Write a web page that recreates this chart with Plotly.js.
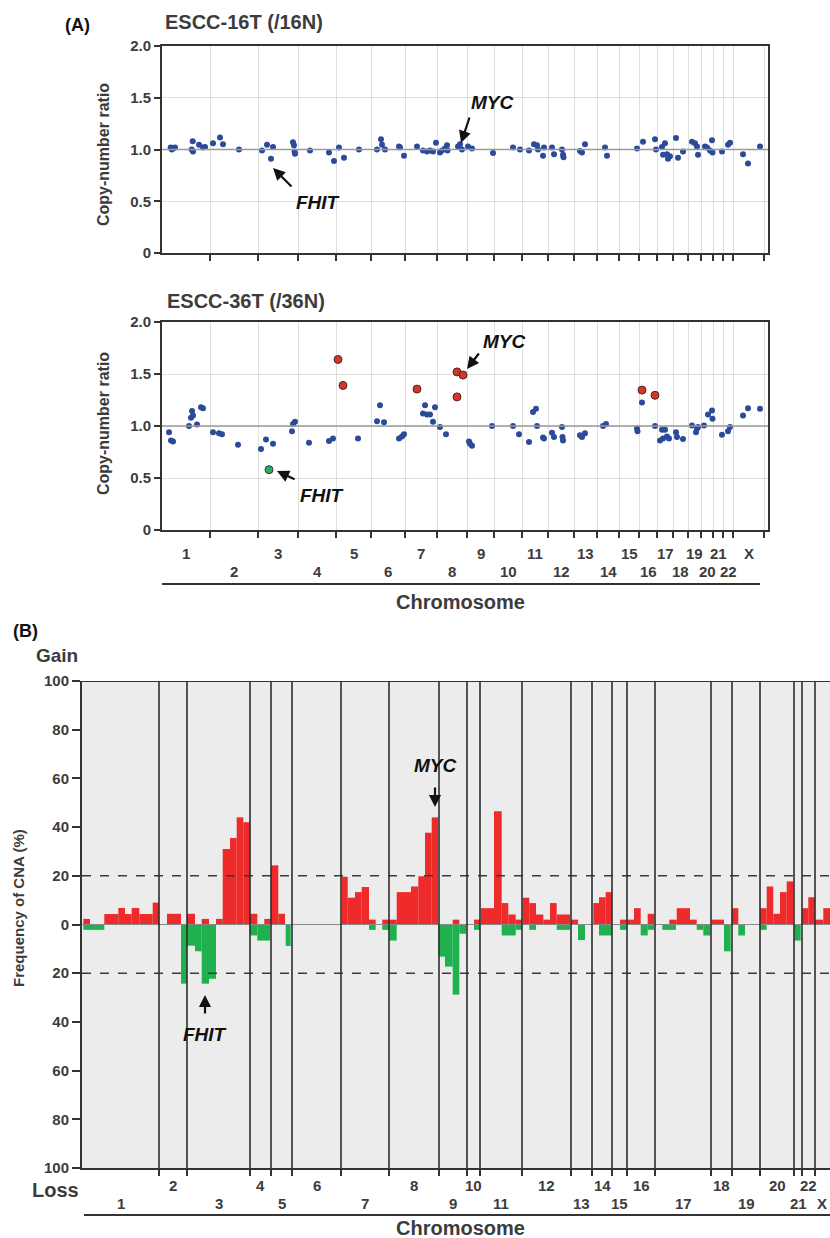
<!DOCTYPE html>
<html>
<head>
<meta charset="utf-8">
<script src="https://cdn.plot.ly/plotly-3.0.1.min.js"></script>
<style>
html,body{margin:0;padding:0;overflow:hidden;background:#fff;}
#chart{width:870px;height:1238px;}
</style>
</head>
<body>
<div id="chart"></div>
<script>
// ---------------- DATA ----------------
const chromNames = ['1','2','3','4','5','6','7','8','9','10','11','12','13','14','15','16','17','18','19','20','21','22','X'];
// chromosome boundaries (genome position units) for panel A and panel B
const chromEdgesA = [0,48,96,136,174,209,243,275,305,332,360,386,412,435,457,477,495,511,526,539,551,561,571,602];
const chromEdgesB = [0,77,105,168,189,210,259,307,357,385,398,440,489,510,530,545,573,629,650,678,712,720,733,770];

// ESCC-16T (/16N) copy-number ratios
const pos16 = [8.7,11,13,9.7,30.7,29.7,31,37,41,43,51,58,61,77,100,105,109,111,131,132,132.5,133,148,167,172,177,182,197,215,219,220,223,237,238,242,255,
  261,265,268,271,274,278,280,283,285,285.5,296,298,300,306,310,331,351,358,367,372,375,376,381,382,390,392,400,401,401.5,418,420,423,443,445,
  475,481,493,494,500,503,501,505,506,508,514,516,521,530,533,535,536,543,545,548,550,550.5,560,566,568,581,586,598];
const ratio16 = [1.02,1.01,1.02,1.0,1.08,1.0,0.98,1.045,1.02,1.025,1.06,1.115,1.05,1.0,0.99,1.045,0.91,1.025,1.07,1.04,0.98,0.96,0.99,0.97,0.89,1.02,0.92,1.0,1.0,1.10,1.045,1.0,1.03,1.02,0.94,1.03,
  0.99,0.98,0.99,0.98,1.065,0.97,0.99,1.01,1.04,0.99,1.03,1.05,1.0,1.03,1.01,0.965,1.02,1.0,0.99,1.05,1.04,1.0,0.94,1.02,1.02,0.955,1.0,0.95,0.925,0.985,0.97,1.05,1.02,0.94,
  1.01,1.075,1.1,1.0,1.025,1.06,0.95,0.955,0.91,0.935,1.11,0.92,0.98,1.075,1.06,1.03,0.95,1.03,1.02,0.99,1.09,0.97,0.98,1.045,1.065,0.955,0.865,1.03];

// ESCC-36T (/36N) copy-number ratios (no change)
const pos36 = [7,9,11,27,29,30,31,35,39,41,51,57,60,76,99,104,111,130,131,133,147,167,171,196,215,218,222,237,240,242,
  261,263,265,268,273,271,278,284,307,310,308,330,351,357,367,371,374,375,381,382,390,392,400,400.5,401,418,420,423,441,444,
  475,475.5,480,493,500,503,498,501,505,507,514,515,521,530,534,536,535,542,546,550,550.5,560,566,568,581,586,598];
const ratio36 = [0.94,0.86,0.85,1.0,1.08,1.145,1.10,1.015,1.18,1.17,0.94,0.93,0.92,0.82,0.78,0.87,0.83,0.95,1.02,1.04,0.84,0.855,0.88,0.88,1.045,1.2,1.035,0.88,0.9,0.92,
  1.12,1.2,1.11,1.11,1.18,1.04,0.99,0.92,0.85,0.81,0.83,1.0,1.0,0.92,0.845,1.135,1.165,1.0,0.89,0.88,0.935,0.895,0.99,0.895,0.86,0.91,0.895,0.93,1.0,1.02,
  0.975,0.95,1.225,1.0,0.965,0.965,0.86,0.88,0.9,0.88,0.94,0.895,0.875,1.005,0.94,0.99,0.975,1.005,1.11,1.15,1.07,0.915,0.95,0.99,1.1,1.17,1.165];
// ESCC-36T gained probes
const gainPos36 = [176,181,255,295,301,295,480,493];
const gainRatio36 = [1.64,1.39,1.355,1.52,1.49,1.28,1.345,1.295];
// ESCC-36T lost probe (FHIT)
const lossPos36 = [107];
const lossRatio36 = [0.58];

// Panel B: frequency of CNA (%) per genomic segment
const gainStart = [1.3,22.3,36.3,43,49.7,57.3,70.7, 85, 105,119.7,134,140.7,148,154.7,161.3, 168,182.3, 189,196.3,
  259.7,265.7,273,279.7,287,300.3, 307,314.7,329,336.3,343,349.7, 370.7, 392, 398.7,412,419.7,426.3,433.7,
  440.7,447.3,454,461.3,468,474.7, 489, 511.3,517,523.7, 538, 544.7,552,565.7, 587.3,594.7,608, 629.7, 649.7,
  678,684.7,691.3,698,704.7, 719.7,726.3, 733,741.3,748];
const gainEnd = [8,36.3,43,49.7,57.3,70.7,77, 99, 113,127,140.7,148,154.7,161.3,168, 175.3,189, 196.3,203,
  265.7,273,279.7,287,293.7,307, 314.7,329,336.3,343,349.7,356, 377.3, 398, 412,419.7,426.3,433.7,440,
  447.3,454,461.3,468,474.7,488, 496, 517,523.7,529.7, 544.7, 552,558.7,572, 594.7,608,614.7, 642, 656.3,
  684.7,691.3,698,704.7,711.3, 726.3,733, 741.3,748,756];
const gainPct = [2.3,4.3,6.8,4.3,6.8,4.3,9, 4.4, 4.4,2.3,2.3,31,35.5,44,42, 4.4,2.3, 24.3,4.4,
  19.6,11,13.3,15.4,2,2, 2,13.3,15.6,19.8,37.7,44, 2, 2, 6.7,46.5,8.8,4.1,2,
  11,8.8,4.1,2,8.8,4.1, 2, 8.8,11.2,13.3, 2, 2,6.7,4.4, 2,6.7,2, 2, 6.7,
  6.7,15.6,4.4,13.3,17.7, 6.7,11.2, 2,6.7,11];

const lossStart = [1.3, 99, 105,113,119.7,127, 168,175.3, 203.7, 287,300.3, 307.3, 356.3,363,370.7,377.3, 392,
  419.7,433.7, 447.3,474.7, 496, 517, 538, 558.7,565.7, 580.3,614.7,621.3, 642, 656.3, 678, 712.3];
const lossEnd = [22.3, 105, 113,119.7,127,134, 175.3,188, 208.7, 293.7,307, 314.7, 363,370.7,377.3,384, 398,
  433.7,440, 454,488, 503, 529.7, 544.7, 565.7,572, 594,621.3,628, 648.7, 663, 684.7, 718.7];
const lossPct = [2.2, 24.3, 8.7,11,24.3,22.3, 4.5,6.6, 8.8, 2.2,2.2, 6.6, 13.2,17.3,28.8,3.8, 2.2,
  4.5,2.2, 2.2,2.2, 6.4, 4.5, 2.2, 4.5,2.2, 2.2,2.2,4.5, 11, 4.5, 2.2, 6.6];

const ratioTicks = [0,0.5,1,1.5,2];
const ratioTickText = ['0','0.5','1.0','1.5','2.0'];
const freqTicks = [-100,-80,-60,-40,-20,0,20,40,60,80,100];
const freqTickText = ['100','80','60','40','20','0','20','40','60','80','100'];

// ---------------- LAYOUT HELPERS ----------------
const W = 870, H = 1238;
const fx = px => px / W;
const fy = py => 1 - py / H;
const FONT = 'Liberation Sans, Arial, Helvetica, sans-serif';
const TXT = '#3c3c3c';

const mids = edges => edges.slice(0, -1).map((e, i) => (e + edges[i + 1]) / 2);
const midsA = mids(chromEdgesA);
const midsB = mids(chromEdgesB);

const centers = (s, e) => s.map((v, i) => (v + e[i]) / 2);
const widths = (s, e) => s.map((v, i) => e[i] - v);

// ---------------- TRACES ----------------
const blue = '#2b4a99';
const traces = [
  {type:'scatter', mode:'markers', x:pos16, y:ratio16, xaxis:'x', yaxis:'y',
   marker:{color:blue, size:6}},
  {type:'scatter', mode:'markers', x:pos36, y:ratio36, xaxis:'x2', yaxis:'y2',
   marker:{color:blue, size:6}},
  {type:'scatter', mode:'markers', x:gainPos36, y:gainRatio36, xaxis:'x2', yaxis:'y2',
   marker:{color:'#d8352a', size:8, line:{color:'#4a2a1c', width:1}}},
  {type:'scatter', mode:'markers', x:lossPos36, y:lossRatio36, xaxis:'x2', yaxis:'y2',
   marker:{color:'#2fa866', size:8, line:{color:'#24402c', width:1}}},
  {type:'bar', x:centers(gainStart, gainEnd), width:widths(gainStart, gainEnd), y:gainPct,
   xaxis:'x3', yaxis:'y3', marker:{color:'#ee2a2a', line:{width:0}}},
  {type:'bar', x:centers(lossStart, lossEnd), width:widths(lossStart, lossEnd), y:lossPct.map(v => -v),
   xaxis:'x3', yaxis:'y3', marker:{color:'#1fb14e', line:{width:0}}}
];

// ---------------- AXES ----------------
const tickFont = {family:FONT, size:15, color:TXT, weight:700};
const ratioX = (dom) => ({
  domain:dom, range:[0,606], tickvals:chromEdgesA.slice(1), showticklabels:false,
  ticks:'outside', ticklen:6, tickwidth:2, tickcolor:'#333',
  showgrid:true, gridcolor:'#dedede', gridwidth:1, zeroline:false,
  showline:true, mirror:true, linecolor:'#333', linewidth:2, fixedrange:true
});
const ratioY = (dom, anchor) => ({
  domain:dom, range:[0,2], tickvals:ratioTicks, ticktext:ratioTickText, tickfont:tickFont,
  ticks:'outside', ticklen:6, tickwidth:2, tickcolor:'#333', anchor:anchor,
  showgrid:true, gridcolor:'#dedede', zeroline:false,
  showline:true, mirror:true, linecolor:'#333', linewidth:2, fixedrange:true
});

const layout = {
  width:W, height:H, margin:{l:0,r:0,t:0,b:0},
  paper_bgcolor:'#fff', plot_bgcolor:'#fff', showlegend:false,
  barmode:'overlay', font:{family:FONT, color:TXT},
  xaxis: Object.assign(ratioX([fx(162), fx(768)]), {anchor:'y'}),
  yaxis: ratioY([fy(253), fy(46)], 'x'),
  xaxis2: Object.assign(ratioX([fx(162), fx(768)]), {anchor:'y2'}),
  yaxis2: ratioY([fy(530), fy(322)], 'x2'),
  xaxis3: {domain:[fx(82), fx(852)], range:[0,770], anchor:'y3',
    tickvals:chromEdgesB.slice(1, -1), showticklabels:false,
    ticks:'outside', ticklen:6, tickwidth:1.5, tickcolor:'#333',
    showgrid:false, zeroline:false, showline:true, linecolor:'#333', linewidth:2, fixedrange:true},
  yaxis3: {domain:[fy(1168), fy(681)], range:[-100,100], anchor:'x3',
    tickvals:freqTicks, ticktext:freqTickText, tickfont:tickFont,
    ticks:'outside', ticklen:8, tickwidth:2, tickcolor:'#333',
    showgrid:false, zeroline:false, showline:true, linecolor:'#333', linewidth:2, fixedrange:true},
  shapes:[], annotations:[]
};

// ---------------- SHAPES ----------------
const S = layout.shapes;
S.push({type:'line', xref:'x', yref:'y', x0:0, x1:606, y0:1, y1:1, line:{color:'#9a9a9a', width:1.5}});
S.push({type:'line', xref:'x2', yref:'y2', x0:0, x1:606, y0:1, y1:1, line:{color:'#9a9a9a', width:1.5}});
S.push({type:'line', xref:'paper', yref:'paper', x0:fx(162), x1:fx(760), y0:fy(584), y1:fy(584), line:{color:'#333', width:2}});
// panel B
S.push({type:'rect', xref:'x3', yref:'y3', x0:0, x1:770, y0:-100, y1:100, fillcolor:'#ececec', line:{width:0}, layer:'below'});
S.push({type:'line', xref:'x3', yref:'y3', x0:0, x1:770, y0:0, y1:0, line:{color:'#8a8a8a', width:1}});
[20, -20].forEach(v => S.push({type:'line', xref:'x3', yref:'y3', x0:0, x1:770, y0:v, y1:v,
  line:{color:'#3a3a3a', width:1.5, dash:'dash'}}));
chromEdgesB.slice(1, -1).forEach(e => S.push({type:'line', xref:'x3', yref:'y3', x0:e, x1:e, y0:-100, y1:100,
  line:{color:'#2e2e2e', width:1.6}}));
S.push({type:'line', xref:'x3', yref:'y3', x0:0, x1:770, y0:100, y1:100, line:{color:'#333', width:2}});
S.push({type:'line', xref:'paper', yref:'paper', x0:fx(84), x1:1, y0:fy(1215), y1:fy(1215), line:{color:'#333', width:2}});

// ---------------- ANNOTATIONS ----------------
const A = layout.annotations;
const txt = (px, py, text, size, extra) => A.push(Object.assign({
  xref:'paper', yref:'paper', x:fx(px), y:fy(py), text:text, showarrow:false,
  xanchor:'center', yanchor:'middle', font:{family:FONT, size:size, color:TXT, weight:700}
}, extra || {}));
const arrow = (hx, hy, tx, ty) => A.push({
  xref:'paper', yref:'paper', x:fx(hx), y:fy(hy), ax:tx - hx, ay:ty - hy, text:'',
  showarrow:true, arrowhead:2, arrowsize:1.1, arrowwidth:2.2, arrowcolor:'#111'
});

txt(77, 25, '(A)', 18, {font:{family:FONT, size:18, color:'#111', weight:700}});
txt(244, 22, 'ESCC-16T (/16N)', 20);
txt(246, 301, 'ESCC-36T (/36N)', 20);
txt(103, 155, 'Copy-number ratio', 16, {textangle:-90});
txt(103, 424, 'Copy-number ratio', 16, {textangle:-90});

const geneFont = {family:FONT, size:19, color:'#111', weight:700, style:'italic'};
txt(492, 102, 'MYC', 19, {font:geneFont});
arrow(461, 143, 470, 116);
txt(318, 202, 'FHIT', 19, {font:geneFont});
arrow(273, 168, 293, 188);
txt(504, 341, 'MYC', 19, {font:geneFont});
arrow(467, 369, 480, 352);
txt(322, 495, 'FHIT', 19, {font:geneFont});
arrow(277, 471, 296, 480);

// chromosome labels, panel A (bottom)
chromNames.forEach((c, i) => {
  A.push({xref:'x2', yref:'paper', x:midsA[i], y:fy(i % 2 === 0 ? 553 : 571), text:c, showarrow:false,
    xanchor:'center', yanchor:'middle', font:{family:FONT, size:15, color:TXT, weight:700}});
});
txt(460, 602, 'Chromosome', 20);

// panel B texts
txt(25, 631, '(B)', 18, {font:{family:FONT, size:18, color:'#111', weight:700}});
txt(57, 655, 'Gain', 19);
txt(55, 1190, 'Loss', 20);
txt(18, 908, 'Frequency of CNA (%)', 15, {textangle:-90});
txt(436, 765, 'MYC', 19, {font:geneFont});
arrow(435, 807, 435, 786);
txt(205, 1034, 'FHIT', 19, {font:geneFont});
arrow(205, 995, 205, 1015);
chromNames.forEach((c, i) => {
  const last = i === chromNames.length - 1;
  A.push({xref: last ? 'paper' : 'x3', yref:'paper', x: last ? fx(829) : midsB[i],
    y:fy(i % 2 === 1 ? 1185 : 1203), text:c, showarrow:false,
    xanchor: last ? 'right' : 'center', yanchor:'middle', font:{family:FONT, size:15, color:TXT, weight:700}});
});
txt(460, 1228, 'Chromosome', 20);

Plotly.newPlot('chart', traces, layout, {staticPlot:true, displayModeBar:false});
</script>
</body>
</html>
